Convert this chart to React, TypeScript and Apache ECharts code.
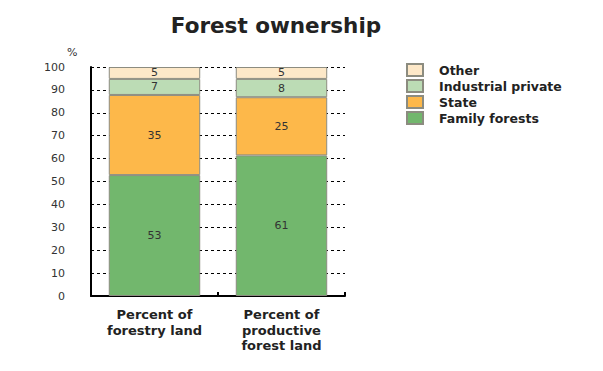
import React, { useEffect, useRef } from "react";
import * as echarts from "echarts";

const categories = ["Percent of\nforestry land", "Percent of\nproductive\nforest land"];
const familyForests = [52.8, 61.4];
const state = [35.0, 25.4];
const industrialPrivate = [7.0, 8.0];
const other = [5.2, 5.2];
const legendOrder = ["Other", "Industrial private", "State", "Family forests"];
const yTicks = { min: 0, max: 100, interval: 10 };

export default function App() {
  const ref = useRef<HTMLDivElement>(null);
  useEffect(() => {
    if (!ref.current) return;
    const chart = echarts.init(ref.current, undefined, { renderer: "svg" });
    const font = "'DejaVu Sans', Verdana, sans-serif";
    const mk = (name: string, data: number[], color: string) => ({
      name,
      type: "bar",
      stack: "total",
      data,
      barWidth: "72%",
      itemStyle: { color, borderColor: "#8c8c80", borderWidth: 1 },
      label: {
        show: true,
        position: "inside",
        color: "#333",
        fontSize: 11,
        fontFamily: font,
        formatter: (p: any) => String(Math.round(p.value)),
      },
    });
    chart.setOption({
      animation: false,
      title: {
        text: "Forest ownership",
        left: 263,
        textAlign: "center",
        top: 1,
        textStyle: { fontSize: 21.5, fontWeight: "bold", color: "#222", fontFamily: font },
      },
      legend: {
        data: legendOrder,
        orient: "vertical",
        left: 393,
        top: 50,
        itemWidth: 16,
        itemHeight: 12,
        itemGap: 2,
        icon: "rect",
        textStyle: {
          fontSize: 12.5,
          fontWeight: "bold",
          color: "#222",
          fontFamily: font,
          lineHeight: 14,
          padding: [0, 0, 0, 11],
        },
      },
      grid: { left: 83, top: 59, right: 250, bottom: 67 },
      xAxis: {
        type: "category",
        data: categories,
        axisLine: { lineStyle: { color: "#000", width: 2 } },
        axisTick: { show: true, inside: true, length: 4, lineStyle: { color: "#000", width: 2 } },
        axisLabel: {
          fontSize: 13,
          fontWeight: "bold",
          color: "#222",
          lineHeight: 15.5,
          margin: 11,
          fontFamily: font,
        },
      },
      yAxis: {
        type: "value",
        min: yTicks.min,
        max: yTicks.max,
        interval: yTicks.interval,
        axisLine: { show: true, lineStyle: { color: "#000", width: 2 } },
        axisTick: { show: false },
        axisLabel: { fontSize: 11, color: "#333", margin: 26, fontFamily: font },
        splitLine: { lineStyle: { color: "#000", type: [3, 3], width: 1 } },
      },
      graphic: [
        {
          type: "text",
          left: 59,
          top: 39,
          style: { text: "%", fontSize: 11, fill: "#333", fontFamily: font },
        },
      ],
      series: [
        mk("Family forests", familyForests, "#72b76d"),
        mk("State", state, "#fdb84a"),
        mk("Industrial private", industrialPrivate, "#bcdcb5"),
        mk("Other", other, "#fde8c8"),
      ],
    });
    return () => chart.dispose();
  }, []);
  return <div ref={ref} style={{ width: 587, height: 355 }} />;
}
